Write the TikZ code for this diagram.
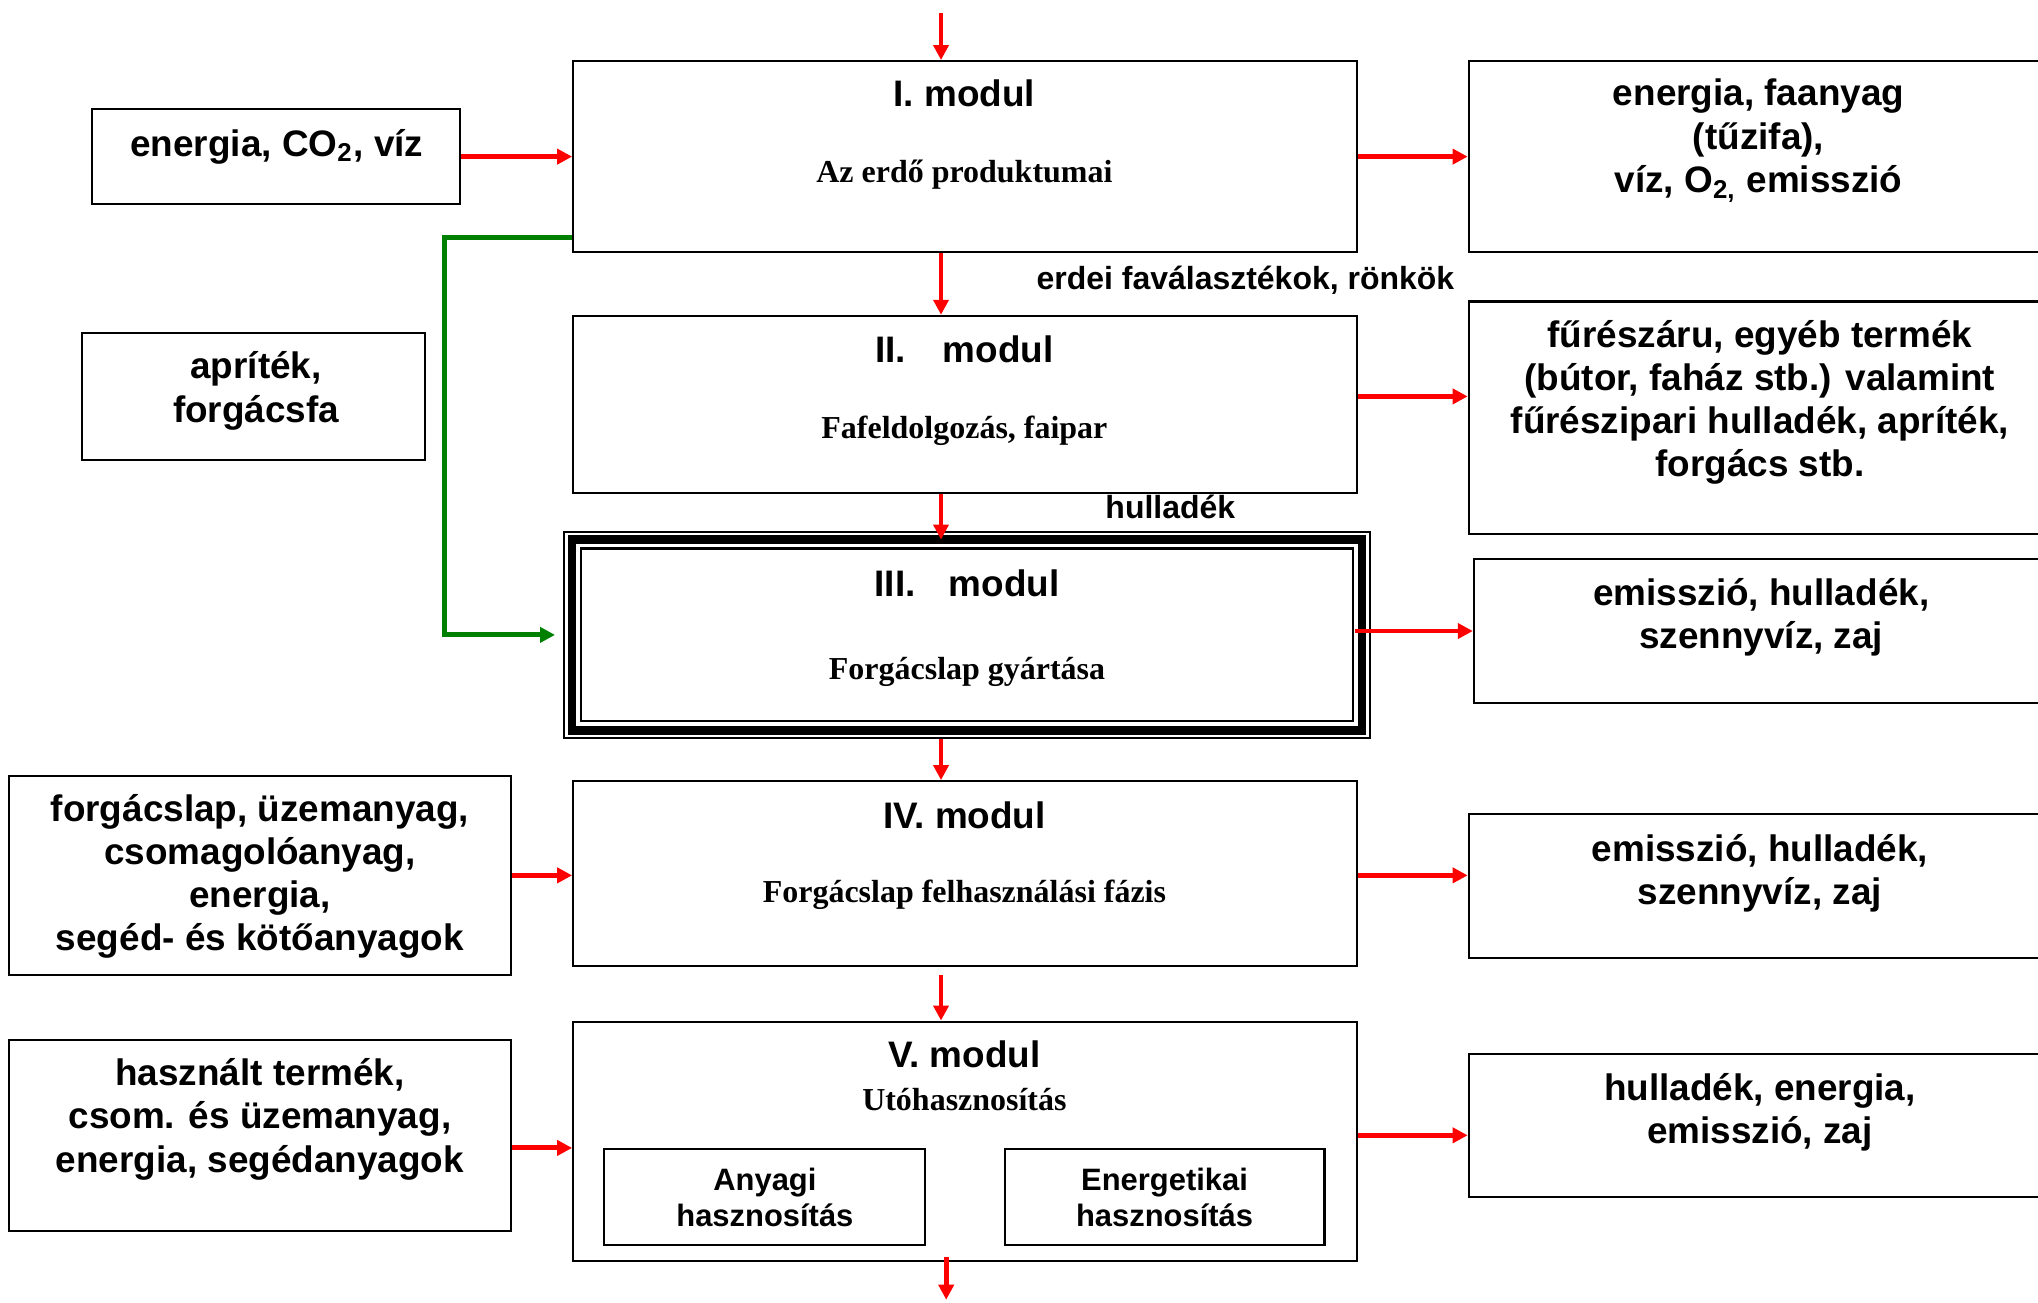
\documentclass[tikz,border=0pt]{standalone}
\usepackage{fontspec}
\setmainfont{Liberation Sans}
\newfontfamily\serifbold{Liberation Serif}
\usetikzlibrary{arrows.meta}

\begin{document}
\begin{tikzpicture}[x=0.013cm,y=-0.013cm,
  box/.style={draw,line width=0.6pt,inner sep=0pt},
  txt/.style={align=center,inner sep=0pt,font=\fontsize{10.5}{12.3}\selectfont\bfseries},
  btxt/.style={txt,yshift=-0.035cm},
  sub/.style={inner sep=0pt,yshift=-0.035cm,font=\fontsize{9.1}{11}\selectfont\serifbold\bfseries},
  lbl/.style={anchor=west,inner sep=0pt,font=\fontsize{9.1}{11}\selectfont\bfseries},
  subbox/.style={box,align=center,font=\fontsize{8.8}{10.3}\selectfont\bfseries},
  flow/.style={draw=red,line width=1.4pt,-{Triangle[length=1.5mm,width=1.5mm]}},
  feed/.style={draw=green!50!black,line width=1.4pt,-{Triangle[length=1.5mm,width=1.5mm]}}]
\useasboundingbox (0,0) rectangle (1568,1002);
\clip (0,0) rectangle (1568,1002);

\node[box,minimum width=7.839cm,minimum height=1.911cm] (m1) at (742.5,120.5) {};
\node[box,minimum width=7.839cm,minimum height=1.768cm] (m2) at (742.5,311) {};
\node[box,minimum width=8.06cm,minimum height=2.067cm] (m3) at (744,488.5) {};
\node[box,minimum width=7.839cm,minimum height=1.846cm] (m4) at (742.5,672) {};
\node[box,minimum width=7.839cm,minimum height=2.392cm] (m5) at (742.5,878) {};
\draw[line width=2.4pt] ([shift={(0.09cm,-0.09cm)}]m3.north west) rectangle ([shift={(-0.09cm,0.09cm)}]m3.south east);
\draw[line width=0.6pt] ([shift={(0.18cm,-0.18cm)}]m3.north west) rectangle ([shift={(-0.18cm,0.18cm)}]m3.south east);

\node[txt] (m1t) at (742,72) {I. modul};
\node[sub] (m1s) at (742,132) {Az erdő produktumai};
\node[txt] (m2t) at (742,269) {II.\hspace{1em}modul};
\node[sub] (m2s) at (742,329) {Fafeldolgozás, faipar};
\node[txt] (m3t) at (744,449) {III.\hspace{0.9em}modul};
\node[sub] (m3s) at (744,514) {Forgácslap gyártása};
\node[txt] (m4t) at (742,627) {IV. modul};
\node[sub] (m4s) at (742,686) {Forgácslap felhasználási fázis};
\node[txt] (m5t) at (742,811) {V. modul};
\node[sub] (m5s) at (742,843) {Utóhasznosítás};
\node[subbox,minimum width=3.211cm,minimum height=0.962cm] (a1) at (588.5,921) {Anyagi\\hasznosítás};
\node[subbox,minimum width=3.198cm,minimum height=0.962cm] (a2) at (896,921) {Energetikai\\hasznosítás};

\node[box,minimum width=3.679cm,minimum height=0.949cm] (l1) at (212.5,120.5) {};
\node[btxt] (l1t) at (213,110) {energia, CO\textsubscript{2}, víz};
\node[box,minimum width=3.432cm,minimum height=1.274cm] (l2) at (195,305) {};
\node[btxt] (l2t) at (197,298) {apríték,\\forgácsfa};
\node[box,minimum width=5.018cm,minimum height=1.989cm] (l4) at (200,673.5) {};
\node[btxt] (l4t) at (200,671.5) {forgácslap, üzemanyag,\\csomagolóanyag,\\energia,\\segéd- és kötőanyagok};
\node[box,minimum width=5.018cm,minimum height=1.911cm] (l5) at (200,873.5) {};
\node[btxt] (l5t) at (200,858.5) {használt termék,\\csom. és üzemanyag,\\energia, segédanyagok};

\node[box,minimum width=5.824cm,minimum height=1.911cm] (r1) at (1354,120.5) {};
\node[btxt] (r1t) at (1353,105.5) {energia, faanyag\\(tűzifa),\\víz, O\textsubscript{2,} emisszió};
\node[box,minimum width=5.824cm,minimum height=2.327cm] (r2) at (1354,321.5) {};
\node[btxt] (r2t) at (1354,307) {fűrészáru, egyéb termék\\(bútor, faház stb.) valamint\\fűrészipari hulladék, apríték,\\forgács stb.};
\node[box,minimum width=5.759cm,minimum height=1.443cm] (r3) at (1355.5,485.5) {};
\node[btxt] (r3t) at (1355,472.5) {emisszió, hulladék,\\szennyvíz, zaj};
\node[box,minimum width=5.824cm,minimum height=1.443cm] (r4) at (1354,681.5) {};
\node[btxt] (r4t) at (1354,669) {emisszió, hulladék,\\szennyvíz, zaj};
\node[box,minimum width=5.824cm,minimum height=1.43cm] (r5) at (1354,866) {};
\node[btxt] (r5t) at (1354,853) {hulladék, energia,\\emisszió, zaj};

\node[lbl] (e12) at (797,216) {erdei faválasztékok, rönkök};
\node[lbl] (e23) at (850,390) {hulladék};

\coordinate (in1) at (724,10);
\coordinate (out1) at (728,1000);
\coordinate (g1) at (342,183);

\draw[flow] (in1) -- (in1 |- m1.north);
\draw[flow] (l1) -- (m1);
\draw[flow] (m1) -- (r1);
\draw[flow] (m1.south -| in1) -- (m2.north -| in1);
\draw[flow] (m2.east |- l2) -- (r2.west |- l2);
\draw[flow,shorten >=-0.09cm] (m2.south -| in1) -- (m3.north -| in1);
\draw[feed,shorten >=0.08cm] (m1.west |- g1) -- (g1) |- (m3.west);
\draw[flow,shorten <=-0.16cm] (m3.east |- r3.west) -- (r3.west);
\draw[flow] (m3.south -| in1) -- (m4.north -| in1);
\draw[flow] (l4.east) -- (l4.east -| m4.west);
\draw[flow] (m4.east |- l4) -- (r4.west |- l4);
\draw[flow,shorten <=0.08cm] (m4.south -| in1) -- (m5.north -| in1);
\draw[flow] (l5.east |- a1.north) -- (m5.west |- a1.north);
\draw[flow] (m5.east |- l5) -- (r5.west |- l5);
\draw[flow,shorten <=-0.05cm] (m5.south -| out1) -- (out1);
\end{tikzpicture}
\end{document}
